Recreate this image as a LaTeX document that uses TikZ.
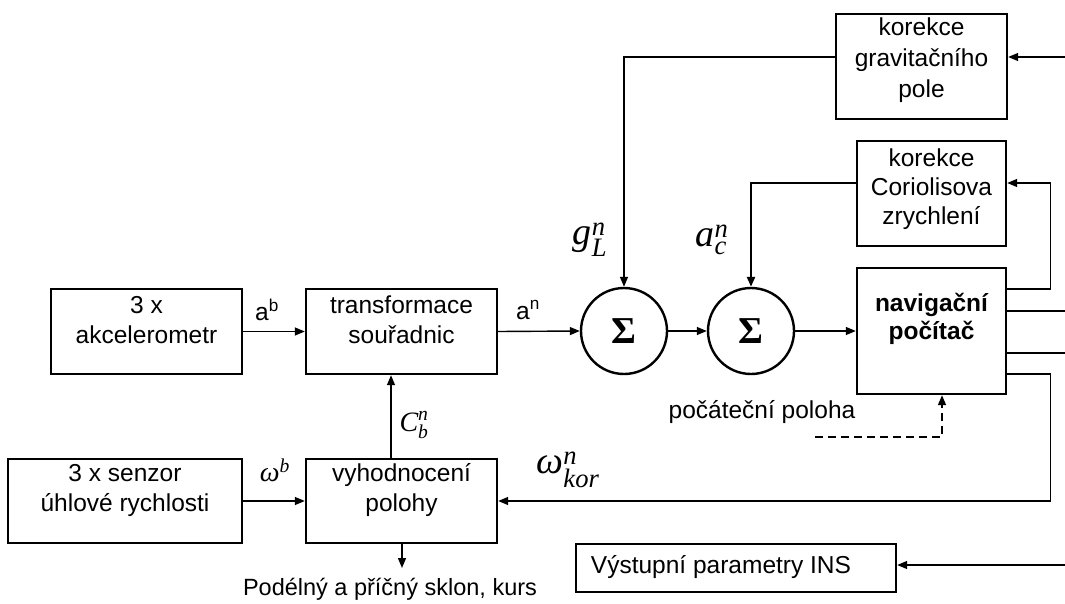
\documentclass[tikz,border=0pt]{standalone}
\usepackage{amsmath}
\usepackage{fontspec}
\setmainfont{Liberation Sans}
\newfontfamily\tms{Liberation Serif}
\usetikzlibrary{arrows.meta,calc}
\newcommand{\mitx}[1]{\text{\tms\itshape #1}}
\begin{document}
\begin{tikzpicture}[x=1pt,y=-1pt,
  box/.style={draw, line width=2.4pt, inner sep=0pt},
  txt/.style={font=\fontsize{24.5}{30}\selectfont, align=center, inner sep=0pt},
  ln/.style={line width=1.4pt},
  arr/.style={ln, -{Triangle[length=10pt,width=8pt]}},
  sig/.style={draw, circle, line width=2.4pt, minimum size=86pt, inner sep=0pt, font=\tms\bfseries\fontsize{38}{40}\selectfont},
  mlab/.style={inner sep=0pt}
]
\useasboundingbox (0,0) rectangle (1065,604);

% boxes
\node[box, minimum width=191pt, minimum height=85pt] (acc) at (146.5,331.5) {};
\node[txt] (acct) at (146.5,320) {3 x\\akcelerometr};
\node[box, minimum width=191pt, minimum height=85pt] (trans) at (401.5,331.5) {};
\node[txt] (transt) at (401.5,320) {transformace\\souřadnic};
\node[box, minimum width=234pt, minimum height=84pt] (sen) at (125,501) {};
\node[txt] (sent) at (125,490) {3 x senzor\\úhlové rychlosti};
\node[box, minimum width=191pt, minimum height=84pt] (vyh) at (401.5,501) {};
\node[txt] (vyht) at (401.5,490) {vyhodnocení\\polohy};
\node[sig] (s1) at (624,331) {Σ};
\node[sig] (s2) at (751,331) {Σ};
\node[box, minimum width=149pt, minimum height=126pt] (nav) at (931.5,331) {};
\node[txt, font=\bfseries\fontsize{24.5}{28}\selectfont] (navt) at (931.5,319) {navigační\\počítač};
\node[box, minimum width=171pt, minimum height=105pt] (grav) at (921.5,66.5) {};
\node[txt, font=\fontsize{24.5}{31}\selectfont] (gravt) at (921.5,60) {korekce\\gravitačního\\pole};
\node[box, minimum width=149pt, minimum height=105pt] (cor) at (931.5,193.5) {};
\node[txt, font=\fontsize{24.5}{29}\selectfont] (cort) at (931.5,189) {korekce\\Coriolisova\\zrychlení};
\node[box, minimum width=320pt, minimum height=48pt] (vys) at (736,568) {};
\node[txt] (vyst) at (721,567) {Výstupní parametry INS};

% free ends
\coordinate (gin) at (1065,57);
\coordinate (o1) at (1065,311);
\coordinate (o2) at (1065,353);
\coordinate (vin) at (1065,565);
\coordinate (ds) at (815,437);
\coordinate (pd) at (402,568);

% connectors
\draw[arr] (acc.east) -- (trans.west);
\draw[arr] (trans.east) -- (s1.west);
\draw[arr] (s1.east) -- (s2.west);
\draw[arr] (s2.east) -- (nav.west);
\draw[arr] (sen.east) -- (vyh.west);
\draw[arr] ([xshift=-10.5pt]vyh.north) -- ([xshift=-10.5pt]trans.south);
\draw[arr] (vyh.south -| pd) -- (pd);
\draw[arr] (gin) -- (grav.east |- gin);
\draw[arr] (grav.west |- gin) -| (s1.north);
\draw[arr, line width=2.4pt] ([yshift=10.5pt]cor.west) -| (s2.north);
\draw[arr] ([yshift=42pt]nav.east) -- ++(43,0) |- ([yshift=10.5pt]cor.east);
\draw[ln] ([yshift=20pt]nav.east) -- (o1);
\draw[ln] ([yshift=-22pt]nav.east) -- (o2);
\draw[arr] ([yshift=-43pt]nav.east) -- ++(43,0) |- (vyh.east);
\draw[arr, dash pattern=on 8pt off 5pt] (ds) -| ([xshift=10.5pt]nav.south);
\draw[arr] (vin) -- (vys.east |- vin);

% labels
\node[txt] (lab) at (267,310) {a\textsuperscript{b}};
\node[txt] (lan) at (528,310) {a\textsuperscript{n}};
\node[mlab, font=\fontsize{38}{40}\selectfont] (lg) at (590,240) {$\mitx{g}^{\mitx{n}}_{\mitx{L}}$};
\node[mlab, font=\fontsize{38}{40}\selectfont] (lac) at (712,240) {$\mitx{a}^{\mitx{n}}_{\mitx{c}}$};
\node[mlab, font=\fontsize{28}{30}\selectfont] (lc) at (414,425) {$\mitx{C}^{\mitx{n}}_{\mitx{b}}$};
\node[mlab, font=\fontsize{28}{30}\selectfont] (lw) at (275,470) {$\mitx{ω}^{\mitx{b}}$};
\node[mlab, font=\fontsize{38}{40}\selectfont] (lwk) at (568,470) {$\mitx{ω}^{\mitx{n}}_{\mitx{kor}}$};
\node[txt] (pp) at (762,412) {počáteční poloha};
\node[txt, font=\fontsize{23.5}{28}\selectfont] (pdl) at (390,589) {Podélný a příčný sklon, kurs};
\end{tikzpicture}
\end{document}
